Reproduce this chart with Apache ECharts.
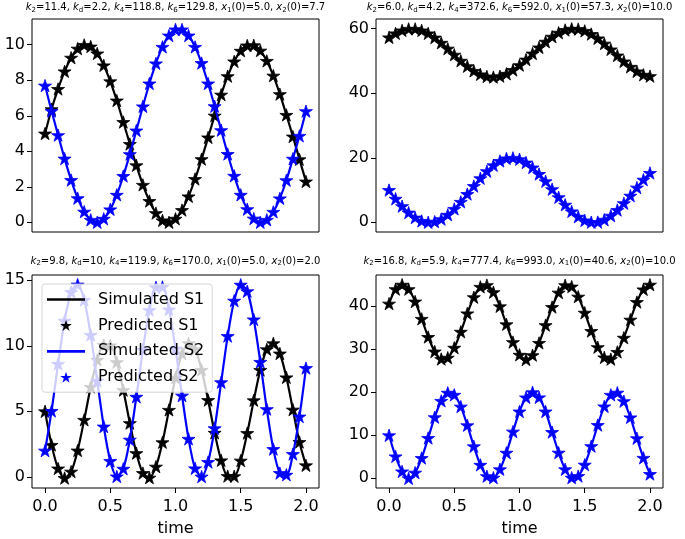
<!DOCTYPE html>
<html><head><meta charset="utf-8">
<script src="https://cdn.jsdelivr.net/npm/echarts@6/dist/echarts.min.js"></script>
<style>html,body{margin:0;padding:0;background:#fff}#c{width:685px;height:539px}</style>
</head><body><div id="c"></div>
<script>
// ---- data ----
const times = [0.00,0.05,0.10,0.15,0.20,0.25,0.30,0.35,0.40,0.45,0.50,0.55,0.60,0.65,0.70,0.75,0.80,0.85,0.90,0.95,1.00,1.05,1.10,1.15,1.20,1.25,1.30,1.35,1.40,1.45,1.50,1.55,1.60,1.65,1.70,1.75,1.80,1.85,1.90,1.95,2.00];

const p1S1 = [5.00,6.37,7.51,8.50,9.27,9.78,9.99,9.90,9.51,8.84,7.94,6.86,5.65,4.41,3.21,2.11,1.20,0.52,0.11,0.00,0.20,0.69,1.46,2.44,3.56,4.78,6.01,7.19,8.23,9.06,9.66,9.96,9.97,9.67,9.09,8.26,7.22,6.05,4.83,3.55,2.30];
const p1S2 = [7.70,6.27,4.91,3.59,2.38,1.36,0.60,0.14,0.00,0.20,0.73,1.55,2.61,3.84,5.17,6.53,7.82,8.95,9.88,10.52,10.86,10.86,10.52,9.88,8.97,7.82,6.54,5.19,3.85,2.62,1.55,0.74,0.21,0.00,0.14,0.59,1.35,2.37,3.58,4.87,6.26];

const p2S1 = [57.30,58.55,59.47,59.94,59.94,59.46,58.55,57.25,55.63,53.82,51.94,50.07,48.37,46.93,45.85,45.20,45.00,45.28,46.02,47.19,48.70,50.43,52.30,54.18,55.96,57.51,58.75,59.60,59.98,59.88,59.33,58.34,56.99,55.37,53.57,51.69,49.85,48.18,46.76,45.72,45.30];
const p2S2 = [10.00,7.30,5.00,3.02,1.47,0.44,0.01,0.20,0.99,2.34,4.16,6.34,8.76,11.24,13.66,15.84,17.66,19.01,19.80,19.98,19.55,18.52,16.98,14.98,12.72,10.25,7.78,5.45,3.39,1.74,0.59,0.04,0.08,0.80,2.06,3.81,5.92,8.25,10.76,13.21,15.30];

const p3S1 = [5.00,2.44,0.64,-0.09,0.40,2.01,4.35,6.86,8.93,10.07,10.03,8.75,6.62,4.10,1.81,0.29,-0.06,0.78,2.64,5.11,7.57,9.40,10.19,9.73,8.16,5.86,3.36,1.26,0.06,0.05,1.24,3.34,5.84,8.15,9.73,10.19,9.41,7.59,5.13,2.66,0.88];
const p3S2 = [2.00,5.03,8.62,11.91,14.10,14.67,13.49,10.83,7.33,3.84,1.21,0.03,0.62,2.84,6.11,9.70,12.72,14.46,14.49,12.77,9.78,6.20,2.90,0.65,0.02,1.13,3.71,7.22,10.74,13.44,14.66,14.16,12.01,8.77,5.17,2.12,0.29,0.16,1.74,4.60,8.30];

const p4S1 = [40.60,43.96,45.00,43.96,41.08,37.06,32.85,29.47,27.73,28.03,30.35,34.06,38.33,42.09,44.49,44.90,43.26,39.97,35.79,31.66,28.71,27.60,28.62,31.47,35.60,39.80,43.16,44.88,44.56,42.22,38.49,34.23,30.48,28.10,27.70,29.37,32.67,36.87,40.97,43.90,45.00];
const p4S2 = [10.00,5.10,1.60,0.00,1.32,4.72,9.38,14.20,18.00,19.89,19.41,16.67,12.33,7.44,3.14,0.50,0.15,2.10,5.95,10.86,15.53,18.80,20.00,18.81,15.53,10.75,5.97,2.10,0.15,0.52,3.17,7.48,12.38,16.71,19.40,19.90,17.93,14.16,9.32,4.76,1.00];

const xTicks = [0.0, 0.5, 1.0, 1.5, 2.0];
const yTicks1 = [0, 2, 4, 6, 8, 10];
const yTicks2 = [0, 20, 40, 60];
const yTicks3 = [0, 5, 10, 15];
const yTicks4 = [0, 10, 20, 30, 40];

// parameter values in the panel titles: k2, kd, k4, k6, x1(0), x2(0)
const params1 = ['11.4', '2.2', '118.8', '129.8', '5.0', '7.7'];
const params2 = ['6.0', '4.2', '372.6', '592.0', '57.3', '10.0'];
const params3 = ['9.8', '10', '119.9', '170.0', '5.0', '2.0'];
const params4 = ['16.8', '5.9', '777.4', '993.0', '40.6', '10.0'];

const seriesNames = ['Simulated S1', 'Predicted S1', 'Simulated S2', 'Predicted S2'];
const xLabel = 'time';

// ---- chart ----
const FONT = 'DejaVu Sans';
function starPath() {
  const pts = [];
  for (let i = 0; i < 10; i++) {
    const r = i % 2 ? 0.381966 : 1;
    const a = Math.PI / 2 + i * Math.PI / 5;
    pts.push((r * Math.cos(a)).toFixed(4) + ',' + (-r * Math.sin(a)).toFixed(4));
  }
  return 'path://M' + pts.join(' L') + ' Z';
}
const STAR = starPath();
const LINE_ICON = 'path://M0,0 L38,0 L38,2.7 L0,2.7 Z';

const panels = [
  {left: 32, top: 19, yMin: -0.545, yMax: 11.45, yTicks: yTicks1, s1: p1S1, s2: p1S2, params: params1, bottom: false},
  {left: 376, top: 19, yMin: -3, yMax: 63, yTicks: yTicks2, s1: p2S1, s2: p2S2, params: params2, bottom: false},
  {left: 32, top: 275, yMin: -0.85, yMax: 15.4, yTicks: yTicks3, s1: p3S1, s2: p3S2, params: params3, bottom: true},
  {left: 376, top: 275, yMin: -2.25, yMax: 47.25, yTicks: yTicks4, s1: p4S1, s2: p4S2, params: params4, bottom: true}
];
const W = 287, H = 213;

function titleText(p) {
  return '{i|k}{s|2}{n|=' + p[0] + ', }{i|k}{s|d}{n|=' + p[1] + ', }{i|k}{s|4}{n|=' + p[2] +
    ', }{i|k}{s|6}{n|=' + p[3] + ', }{i|x}{s|1}{n|(0)=' + p[4] + ', }{i|x}{s|2}{n|(0)=' + p[5] + '}';
}

const grids = [], xAxes = [], yAxes = [], series = [], graphics = [];
panels.forEach((p, i) => {
  grids.push({left: p.left, top: p.top, width: W, height: H, show: true, borderColor: '#000', borderWidth: 1, backgroundColor: 'transparent'});
  xAxes.push({
    type: 'value', gridIndex: i, min: -0.1, max: 2.1, position: 'bottom',
    axisLine: {show: false, onZero: false}, splitLine: {show: false},
    axisTick: {show: p.bottom, customValues: xTicks, length: 5, lineStyle: {color: '#000', width: 1}},
    axisLabel: {show: p.bottom, customValues: xTicks, formatter: v => v.toFixed(1), color: '#000', fontSize: 16, fontFamily: FONT, margin: 11},
    name: p.bottom ? xLabel : '', nameLocation: 'middle', nameGap: 33,
    nameTextStyle: {color: '#000', fontSize: 16, fontFamily: FONT}
  });
  yAxes.push({
    type: 'value', gridIndex: i, min: p.yMin, max: p.yMax, position: 'left',
    axisLine: {show: false, onZero: false}, splitLine: {show: false},
    axisTick: {show: true, customValues: p.yTicks, length: 5, lineStyle: {color: '#000', width: 1}},
    axisLabel: {customValues: p.yTicks, color: '#000', fontSize: 16, fontFamily: FONT, margin: 7}
  });
  const d1 = times.map((t, k) => [t, p.s1[k]]);
  const d2 = times.map((t, k) => [t, p.s2[k]]);
  const common = {xAxisIndex: i, yAxisIndex: i, animation: false, silent: true};
  series.push(Object.assign({type: 'line', name: seriesNames[0], data: d1, symbol: 'none', smooth: 0.3,
    lineStyle: {color: '#000', width: 2.2}, itemStyle: {color: '#000'}, z: 2}, common));
  series.push(Object.assign({type: 'scatter', name: seriesNames[1], data: d1, symbol: STAR, symbolSize: 13, symbolKeepAspect: true,
    itemStyle: {color: '#000', opacity: 1, borderColor: '#000', borderWidth: 0.8}, z: 3}, common));
  series.push(Object.assign({type: 'line', name: seriesNames[2], data: d2, symbol: 'none', smooth: 0.3,
    lineStyle: {color: '#0000ff', width: 2.2}, itemStyle: {color: '#0000ff'}, z: 4}, common));
  series.push(Object.assign({type: 'scatter', name: seriesNames[3], data: d2, symbol: STAR, symbolSize: 13, symbolKeepAspect: true,
    itemStyle: {color: '#0000ff', opacity: 1, borderColor: '#0000ff', borderWidth: 0.8}, z: 5}, common));
  graphics.push({
    type: 'text', x: p.left + W / 2, y: p.bottom ? 261 : 7.5, silent: true,
    style: {
      text: titleText(p.params), x: 0, y: 0, align: 'center', verticalAlign: 'middle',
      fill: '#000', fontFamily: FONT, fontSize: 10,
      rich: {
        n: {fontFamily: FONT, fontSize: 10, lineHeight: 12, fill: '#000'},
        i: {fontFamily: FONT, fontSize: 10, fontStyle: 'italic', lineHeight: 12, fill: '#000'},
        s: {fontFamily: FONT, fontSize: 7, lineHeight: 8, verticalAlign: 'bottom', fill: '#000'}
      }
    }
  });
});

const chart = echarts.init(document.getElementById('c'), null, {renderer: 'canvas'});
chart.setOption({
  animation: false,
  backgroundColor: '#fff',
  grid: grids, xAxis: xAxes, yAxis: yAxes, series: series,
  graphic: graphics,
  legend: {
    data: [
      {name: seriesNames[0], icon: LINE_ICON},
      {name: seriesNames[1], icon: STAR, itemStyle: {borderWidth: 0}},
      {name: seriesNames[2], icon: LINE_ICON},
      {name: seriesNames[3], icon: STAR, itemStyle: {borderWidth: 0}}
    ],
    orient: 'vertical', left: 42, top: 284, z: 20,
    itemWidth: 38, itemHeight: 11, itemGap: 7.9,
    padding: [6.5, 8, 6, 5],
    backgroundColor: 'rgba(255,255,255,0.8)', borderColor: 'rgba(204,204,204,0.8)', borderWidth: 1, borderRadius: 3,
    selectedMode: false,
    textStyle: {fontFamily: FONT, fontSize: 16, color: '#000', lineHeight: 18, padding: [0, 0, 0, 8]}
  }
});
</script></body></html>
